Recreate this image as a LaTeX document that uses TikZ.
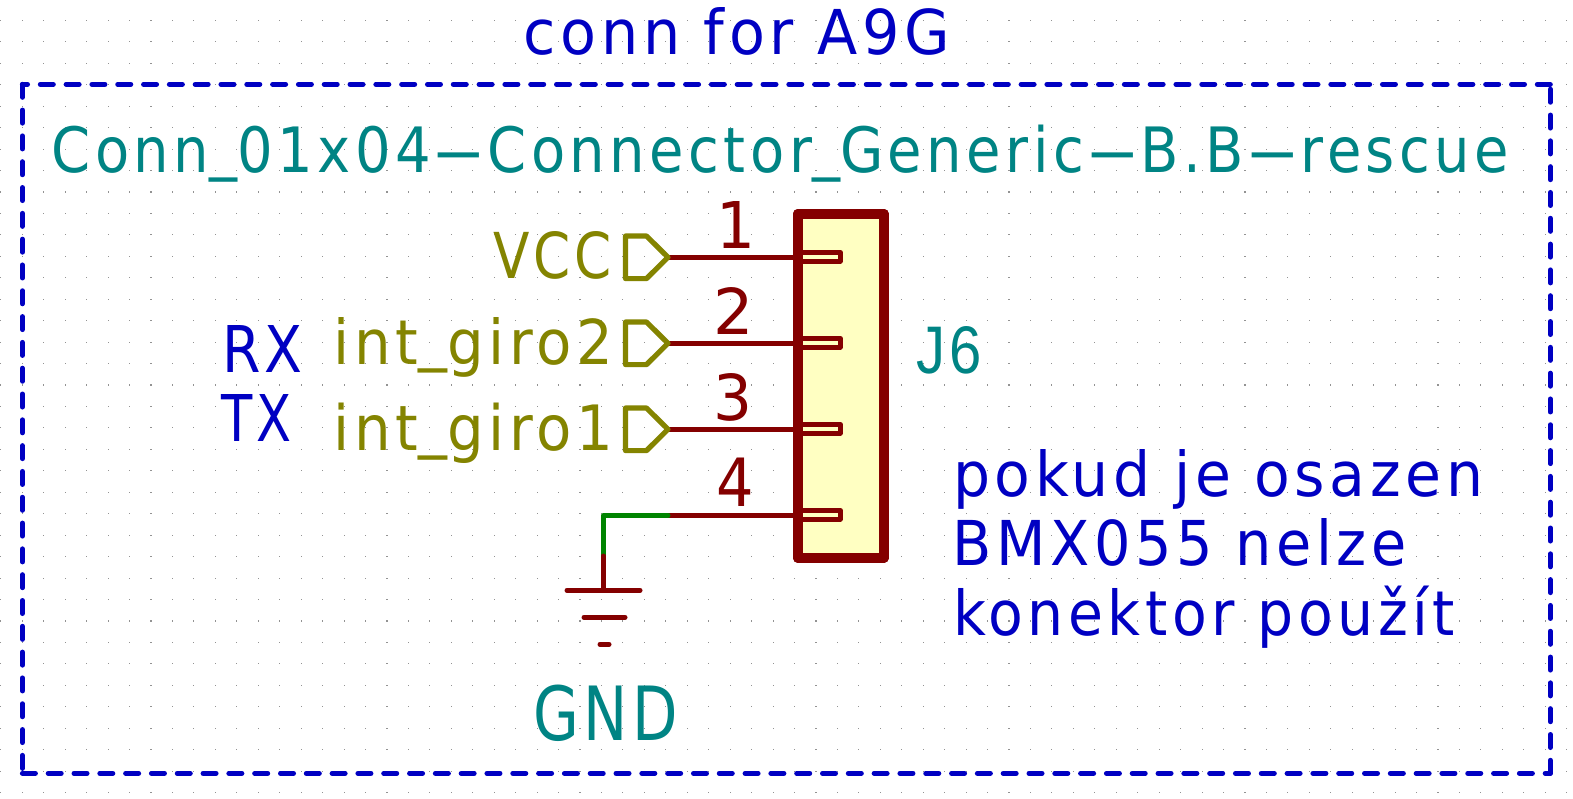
\documentclass[tikz,border=0pt]{standalone}
\usepackage{fontspec}
\usepackage{graphicx}
\setmainfont{DejaVu Sans}[LetterSpace=8]
\newfontfamily\jfont{Liberation Sans}[LetterSpace=8]
\definecolor{kmaroon}{RGB}{132,0,0}
\definecolor{kolive}{RGB}{132,132,0}
\definecolor{kteal}{RGB}{0,132,132}
\definecolor{kblue}{RGB}{0,0,194}
\definecolor{kgreen}{RGB}{0,132,0}
\definecolor{kfill}{RGB}{255,255,194}
\newcommand{\wh}{\scalebox{2.8}[1]{-}}
\newcommand{\us}{\raisebox{5pt}{\_}}
% name, left, right, baseline, height, colour, text
\newcommand{\lbl}[7]{\node[anchor=base west,inner sep=0pt,text=#6] (#1) at (#2,#4)
  {\resizebox{\dimexpr#3pt-#2pt\relax}{#5pt}{\fontsize{60}{60}\selectfont #7}};}
\tikzset{x=1pt,y=-1pt,
  pinwire/.style={draw=kmaroon,line width=5pt,line cap=round,line join=round},
  netwire/.style={draw=kgreen,line width=5pt,line cap=round,line join=round},
  glabel/.style={draw=kolive,line width=5.2pt,line join=round},
  stub/.style={draw=kmaroon,fill=kfill,line width=4.6pt,line join=round,outer sep=0pt},
  body/.style={draw=kmaroon,fill=kfill,line width=9.6pt,line join=round,outer sep=0pt},
  note/.style={draw=kblue,line width=5pt,line cap=round,dash pattern=on 13pt off 12.81pt}}
\begin{document}
\begin{tikzpicture}
\useasboundingbox (0,0) rectangle (1573,798);
\fill[white] (0,0) rectangle (1573,798);
% grid
\foreach \i in {0,...,73}{\foreach \j in {1,...,37}{
  \fill[gray!85] ({0.85+21.45*\i-0.55},{-1.1+21.45*\j-0.55}) rectangle ++(1.1,1.1);}}
% dashed notes frame
\coordinate (fa) at (22.4,84.3); \coordinate (fb) at (1550.3,84.3);
\coordinate (fc) at (1550.3,773.3); \coordinate (fd) at (22.4,773.3);
\draw[note] (fb) -- (fa);
\draw[note] (fa) -- (fd);
\draw[note] (fd) -- (fc);
\draw[note] (fc) -- (fb);
% connector
\node[body,minimum width=86pt,minimum height=344.3pt,inner sep=0pt,anchor=north west] (J) at (797.7,213.7) {};
\foreach \n/\y in {1/257.3,2/343.3,3/429.3,4/515.3}{
  \node[stub,minimum width=42.6pt,minimum height=9pt,inner sep=0pt,anchor=west] (s\n) at (797.7,\y-0.5) {};
  \coordinate (e\n) at (797.7,\y);
  \coordinate (w\n) at (668,\y);
  \draw[pinwire] (w\n) -- (e\n);
}
\draw[draw=kmaroon,line width=9.6pt,line join=round] (J.north west) rectangle (J.south east);
% global labels
\foreach \n/\y in {1/257.3,2/343.3,3/429.3}{
  \draw[glabel] (w\n) -- ++(-21.5,-21.3) -- ++(-21,0) -- ++(0,42.6) -- ++(21,0) -- cycle;
}
% GND
\coordinate (gc) at (603.3,515.3);
\coordinate (gm) at (603.3,556);
\coordinate (gt) at (603.3,590.3);
\draw[netwire] (w4) -- (gc) -- (gm);
\draw[pinwire] (gm) -- (gt);
\draw[pinwire] (567,590.3) -- (640,590.3);
\draw[pinwire] (584,617.3) -- (625,617.3);
\draw[pinwire] (600,644.3) -- (609,644.3);
% texts
\lbl{t0}{523.4}{949.7}{54}{47}{kblue}{conn for A9G}
\lbl{t1}{51.5}{1509}{172.5}{47.5}{kteal}{Conn\us 01x04\wh Connector\us Generic\wh B.B\wh rescue}
\lbl{t2}{492.8}{612}{278}{47}{kolive}{VCC}
\lbl{t3}{333.7}{613}{364}{47}{kolive}{int\us giro2}
\lbl{t4}{333.7}{613}{450.5}{47.5}{kolive}{int\us giro1}
\lbl{p1}{716.6}{755.6}{248}{47}{kmaroon}{1}
\lbl{p2}{713.6}{754}{334.5}{47}{kmaroon}{2}
\lbl{p3}{713.5}{752.5}{420.3}{47}{kmaroon}{3}
\lbl{p4}{716.5}{754}{506}{48.5}{kmaroon}{4}
\lbl{t5}{221.8}{302.6}{372}{47}{kblue}{RX}
\lbl{t6}{221.2}{291.6}{441}{47}{kblue}{TX}
\lbl{t7}{916}{982}{373}{47}{kteal}{\jfont J6}
\lbl{t8}{952.8}{1483}{496}{47}{kblue}{pokud je osazen}
\lbl{t9}{952.4}{1406.7}{565}{47}{kblue}{BMX055 nelze}
\lbl{t10}{952.8}{1455}{635}{49.5}{kblue}{konektor použít}
\lbl{t11}{533}{678}{740}{55.5}{kteal}{GND}
\end{tikzpicture}
\end{document}
